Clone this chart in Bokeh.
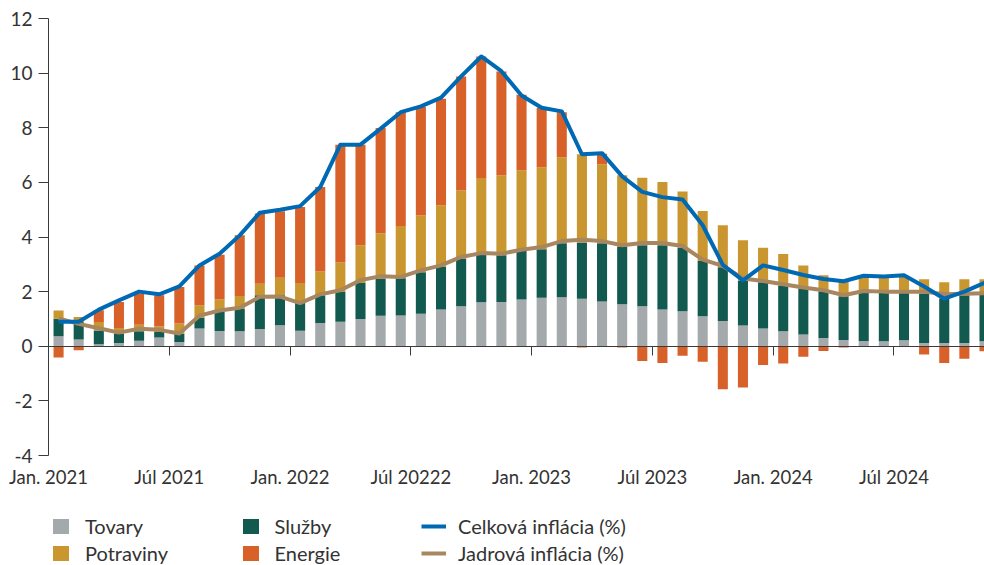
import numpy as np
from bokeh.plotting import figure
from bokeh.layouts import column
from bokeh.models import Range1d, LinearAxis, FixedTicker, Legend, LegendItem, ColumnDataSource
from bokeh.embed import file_html
from bokeh.resources import INLINE

# ---- data (monthly, Jan 2021 - Nov 2024) ----
months = [f"{y}-{m:02d}" for y in (2021, 2022, 2023, 2024) for m in range(1, 13)][:47]

tovary = [0.37, 0.25, 0.07, 0.12, 0.20, 0.32, 0.16, 0.65, 0.56, 0.55, 0.63, 0.77, 0.57, 0.85, 0.90, 1.00,
          1.12, 1.13, 1.19, 1.35, 1.46, 1.61, 1.62, 1.71, 1.78, 1.79, 1.74, 1.64, 1.54, 1.46, 1.35, 1.28,
          1.10, 0.92, 0.76, 0.65, 0.55, 0.43, 0.30, 0.23, 0.19, 0.18, 0.22, 0.12, 0.12, 0.12, 0.18]
sluzby = [0.64, 0.64, 0.51, 0.34, 0.35, 0.20, 0.30, 0.40, 0.70, 0.83, 1.24, 1.10, 1.05, 1.02, 1.09, 1.32,
          1.36, 1.36, 1.52, 1.55, 1.75, 1.75, 1.71, 1.78, 1.77, 1.98, 2.06, 2.13, 2.09, 2.24, 2.35, 2.33,
          2.02, 1.97, 1.65, 1.69, 1.66, 1.68, 1.71, 1.60, 1.78, 1.79, 1.75, 1.81, 1.62, 1.75, 1.70]
potraviny = [0.30, 0.18, 0.31, 0.21, 0.24, 0.21, 0.37, 0.45, 0.45, 0.46, 0.42, 0.64, 0.70, 0.87, 1.09, 1.38,
             1.66, 1.91, 2.08, 2.26, 2.50, 2.80, 2.93, 2.95, 3.00, 3.15, 3.23, 2.89, 2.63, 2.47, 2.31, 2.06,
             1.83, 1.54, 1.47, 1.27, 1.17, 0.85, 0.59, 0.55, 0.56, 0.55, 0.57, 0.52, 0.60, 0.58, 0.57]
energie = [-0.41, -0.15, 0.43, 0.95, 1.14, 1.14, 1.34, 1.46, 1.64, 2.22, 2.57, 2.43, 2.78, 3.09, 4.30, 3.68,
           3.85, 4.17, 3.97, 3.90, 4.17, 4.45, 3.80, 2.77, 2.17, 1.65, -0.05, 0.39, -0.05, -0.54, -0.61, -0.35,
           -0.57, -1.57, -1.51, -0.69, -0.63, -0.38, -0.17, -0.05, 0.0, 0.0, 0.0, -0.30, -0.61, -0.46, -0.18]
celkova = [0.90, 0.90, 1.34, 1.68, 2.00, 1.90, 2.19, 2.96, 3.39, 4.06, 4.89, 5.00, 5.13, 5.83, 7.38, 7.38,
           7.97, 8.57, 8.78, 9.10, 9.88, 10.61, 10.07, 9.18, 8.73, 8.60, 7.03, 7.07, 6.22, 5.65, 5.46, 5.37,
           4.43, 2.98, 2.41, 2.96, 2.79, 2.61, 2.46, 2.38, 2.58, 2.55, 2.60, 2.19, 1.74, 2.00, 2.32]
jadrova = [1.02, 0.82, 0.66, 0.50, 0.64, 0.60, 0.47, 1.12, 1.31, 1.41, 1.81, 1.82, 1.58, 1.90, 2.05, 2.42,
           2.56, 2.54, 2.78, 2.96, 3.27, 3.41, 3.39, 3.53, 3.63, 3.85, 3.90, 3.85, 3.70, 3.78, 3.78, 3.67,
           3.17, 2.94, 2.48, 2.39, 2.27, 2.15, 2.05, 1.87, 2.02, 2.00, 2.00, 2.00, 1.90, 1.92, 1.94]

tick_labels = ["Jan. 2021", "Júl 2021", "Jan. 2022", "Júl 20222", "Jan. 2023", "Júl 2023", "Jan. 2024", "Júl 2024"]
y_ticks = [-4, -2, 0, 2, 4, 6, 8, 10, 12]

# ---- styling ----
C_TOV = "#A4A9AC"
C_SLU = "#12594F"
C_POT = "#C9962F"
C_ENE = "#D8612A"
C_CEL = "#0069B4"
C_JAD = "#A8865F"
AXIS_C = "#3a3a3a"
TEXT_C = "#333333"
FONT = "Lato"

n = len(months)
x = np.arange(n) + 0.5
T = np.array(tovary)
S = np.array(sluzby)
P = np.array(potraviny)
E = np.array(energie)
top_t = T
top_s = T + S
top_p = T + S + P
e_bottom = np.where(E >= 0, top_p, 0.0)
e_top = np.where(E >= 0, top_p + E, E)

src = ColumnDataSource(dict(x=x, t0=np.zeros(n), t1=top_t, s1=top_s, p1=top_p, e0=e_bottom, e1=e_top,
                            cel=celkova, jad=jadrova, month=months))

p = figure(width=984, height=512, output_backend="svg", toolbar_location=None,
           x_range=Range1d(0, 46.5), y_range=Range1d(-4, 12),
           x_axis_location=None, min_border_left=48, min_border_right=0,
           min_border_top=18, min_border_bottom=57)
p.outline_line_color = None
p.xgrid.visible = False
p.ygrid.visible = False

BW = 0.5
p.vbar(x="x", bottom="t0", top="t1", width=BW, fill_color=C_TOV, line_color=None, source=src)
p.vbar(x="x", bottom="t1", top="s1", width=BW, fill_color=C_SLU, line_color=None, source=src)
p.vbar(x="x", bottom="s1", top="p1", width=BW, fill_color=C_POT, line_color=None, source=src)
p.vbar(x="x", bottom="e0", top="e1", width=BW, fill_color=C_ENE, line_color=None, source=src)
p.line(x="x", y="jad", line_color=C_JAD, line_width=4, line_join="round", source=src)
p.line(x="x", y="cel", line_color=C_CEL, line_width=4, line_join="round", source=src)

# y axis
ya = p.yaxis[0]
ya.ticker = FixedTicker(ticks=y_ticks)
ya.major_label_overrides = {t: str(t) for t in y_ticks}
ya.axis_line_color = AXIS_C
ya.major_tick_line_color = AXIS_C
ya.major_tick_out = 10
ya.major_tick_in = 0
ya.minor_tick_line_color = None
ya.major_label_standoff = 6
ya.major_label_text_font = FONT
ya.major_label_text_font_size = "19px"
ya.major_label_text_color = TEXT_C

# x labels axis (bottom)
tick_pos = list(range(0, n, 6))[:len(tick_labels)]
xa = LinearAxis(ticker=FixedTicker(ticks=tick_pos),
                major_label_overrides={t: lab for t, lab in zip(tick_pos, tick_labels)})
xa.axis_line_color = None
xa.major_tick_line_color = None
xa.major_tick_out = 0
xa.major_tick_in = 0
xa.minor_tick_line_color = None
xa.major_label_standoff = 10
xa.major_label_text_font = FONT
xa.major_label_text_font_size = "18.5px"
xa.major_label_text_color = TEXT_C
p.add_layout(xa, "below")

# zero axis with ticks
za = LinearAxis(fixed_location=0, ticker=FixedTicker(ticks=tick_pos[1:]),
                major_label_overrides={t: "" for t in tick_pos[1:]})
za.axis_line_color = AXIS_C
za.major_tick_line_color = AXIS_C
za.major_tick_out = 9
za.major_tick_in = 0
za.minor_tick_line_color = None
za.major_label_text_font_size = "1px"
p.add_layout(za, "below")

# ---- legend strip (same series, drawn out of view; only the keys show) ----
lp = figure(width=984, height=53, output_backend="svg", toolbar_location=None,
            x_range=Range1d(1000, 1001), y_range=Range1d(1000, 1001),
            x_axis_location=None, y_axis_location=None, min_border=0)
lp.outline_line_color = None
lp.grid.visible = False

k_tov, k_slu, k_pot, k_ene = [
    lp.vbar(x="x", bottom=b, top=t, width=BW, fill_color=c, line_color="white", line_width=4, source=src)
    for b, t, c in (("t0", "t1", C_TOV), ("t1", "s1", C_SLU), ("s1", "p1", C_POT), ("e0", "e1", C_ENE))]
k_cel = lp.line(x="x", y="cel", line_color=C_CEL, line_width=4, source=src)
k_jad = lp.line(x="x", y="jad", line_color=C_JAD, line_width=4, source=src)


def add_legend(items, vx):
    lg = Legend(items=items, location=(vx, 0), orientation="vertical",
                glyph_width=25, glyph_height=24, label_height=24, spacing=3,
                label_standoff=12, padding=0, margin=0, border_line_color=None,
                background_fill_alpha=0, label_text_font=FONT, label_text_font_size="20px",
                label_text_color=TEXT_C)
    lp.add_layout(lg, "center")


add_legend([LegendItem(label="Tovary", renderers=[k_tov]),
            LegendItem(label="Potraviny", renderers=[k_pot])], 0)
add_legend([LegendItem(label="Služby", renderers=[k_slu]),
            LegendItem(label="Energie", renderers=[k_ene])], 189.5)
add_legend([LegendItem(label="Celková inflácia (%)", renderers=[k_cel]),
            LegendItem(label="Jadrová inflácia (%)", renderers=[k_jad])], 373)

layout = column(p, lp, spacing=0)
open("out.html", "w").write(file_html(layout, INLINE))
